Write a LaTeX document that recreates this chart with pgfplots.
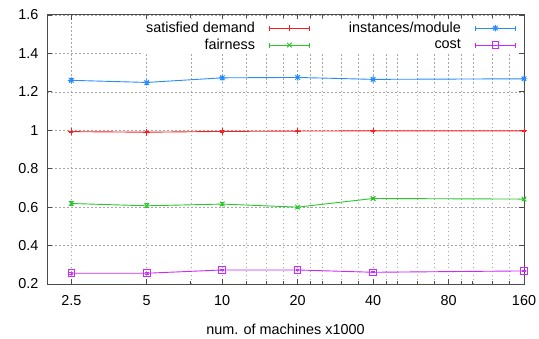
\documentclass[border=0pt]{standalone}
\usepackage{pgfplots}
\pgfplotsset{compat=1.18}
\usepackage{fontspec}
\setmainfont{Liberation Sans}
\definecolor{gpred}{RGB}{255,30,30}
\definecolor{gpgreen}{RGB}{40,200,40}
\definecolor{gpblue}{RGB}{40,140,255}
\definecolor{gppurple}{RGB}{205,40,255}
\pgfdeclareplotmark{gpstar}{%
  \pgfpathmoveto{\pgfqpoint{-\pgfplotmarksize}{0pt}}\pgfpathlineto{\pgfqpoint{\pgfplotmarksize}{0pt}}%
  \pgfpathmoveto{\pgfqpoint{0pt}{-\pgfplotmarksize}}\pgfpathlineto{\pgfqpoint{0pt}{\pgfplotmarksize}}%
  \pgfpathmoveto{\pgfqpoint{-.7071\pgfplotmarksize}{-.7071\pgfplotmarksize}}\pgfpathlineto{\pgfqpoint{.7071\pgfplotmarksize}{.7071\pgfplotmarksize}}%
  \pgfpathmoveto{\pgfqpoint{-.7071\pgfplotmarksize}{.7071\pgfplotmarksize}}\pgfpathlineto{\pgfqpoint{.7071\pgfplotmarksize}{-.7071\pgfplotmarksize}}%
  \pgfusepathqstroke}
\newcommand{\fs}{\fontsize{14.4bp}{17bp}\selectfont}
\pgfplotsset{
  gpleg/.style={legend image code/.code={%
    \draw[##1, mark=none] (0bp,0bp)--(40bp,0bp);
    \draw[##1, mark=none] (0bp,-2.5bp)--(0bp,2.5bp) (40bp,-2.5bp)--(40bp,2.5bp);
    \draw[##1, draw=none] plot coordinates {(20bp,0bp)};}},
}
\begin{document}
\begin{tikzpicture}
\begin{axis}[
  scale only axis,
  width=477bp, height=269bp,
  xmode=log,
  xmin=2, xmax=160,
  ymin=0.2, ymax=1.6,
  xtick={2.5,5,10,20,40,80,160},
  xticklabels={2.5,5,10,20,40,80,160},
  minor xtick={7.5,12.5,15,17.5,22.5,25,30,35,45,50,60,70,90,100,120,140},
  ytick={0.2,0.4,0.6,0.8,1,1.2,1.4,1.6},
  yticklabels={0.2,0.4,0.6,0.8,1,1.2,1.4,1.6},
  xmajorgrids, xminorgrids, ymajorgrids,
  grid style={gray!70, line width=0.6bp, dash pattern=on 1.5bp off 2.5bp},
  minor grid style={gray!70, line width=0.6bp, dash pattern=on 1.5bp off 2.5bp},
  axis line style={gray!60!black, line width=1bp},
  major tick length=5bp, minor tick length=3bp,
  tick style={gray!60!black, line width=0.8bp},
  tick align=inside,
  /pgf/number format/assume math mode=true,
  tick label style={font=\fs, black},
  xticklabel style={yshift=-8bp},
  yticklabel style={xshift=-5bp},
  xlabel={num. of machines x1000},
  xlabel style={font=\fs, yshift=-12bp},
  legend columns=2,
  legend plot pos=right,
  legend cell align=right,
  legend style={font=\fs, draw=none, fill=white, at={(1,1)}, anchor=north east,
    xshift=-7bp, yshift=-4bp, inner sep=1bp, row sep=1bp,
    /tikz/every odd column/.append style={column sep=12bp},
    /tikz/every even column/.append style={column sep=37bp}},
  every axis plot/.append style={line width=0.9bp, mark size=3.3bp, mark options={solid, line width=0.9bp}},
  error bars/y dir=both, error bars/y explicit,
  error bars/error mark options={rotate=90, mark size=1.8bp, line width=0.8bp},
  clip=false,
]
\addlegendimage{gpleg, color=gpred, mark=+, line width=0.9bp, mark size=3.3bp}
\addlegendentry{satisfied demand}
\addlegendimage{gpleg, color=gpblue, mark=gpstar, line width=0.9bp, mark size=3.3bp}
\addlegendentry{instances/module}
\addlegendimage{gpleg, color=gpgreen, mark=x, line width=0.9bp, mark size=3.3bp}
\addlegendentry{fairness}
\addlegendimage{gpleg, color=gppurple, mark=square, line width=0.9bp, mark size=3.3bp}
\addlegendentry{cost}
\addplot[gpred, mark=+, forget plot] coordinates {
  (2.5,0.993) +- (0,0.003)
  (5,0.990) +- (0,0.003)
  (10,0.994) +- (0,0.003)
  (20,0.996) +- (0,0.002)
  (40,0.997) +- (0,0.002)
  (160,0.997) +- (0,0.002)
};
\addplot[gpblue, mark=gpstar, forget plot] coordinates {
  (2.5,1.260) +- (0,0.008)
  (5,1.249) +- (0,0.008)
  (10,1.273) +- (0,0.006)
  (20,1.275) +- (0,0.006)
  (40,1.265) +- (0,0.005)
  (160,1.268) +- (0,0.005)
};
\addplot[gpgreen, mark=x, forget plot] coordinates {
  (2.5,0.619) +- (0,0.012)
  (5,0.607) +- (0,0.010)
  (10,0.616) +- (0,0.008)
  (20,0.600) +- (0,0.006)
  (40,0.645) +- (0,0.006)
  (160,0.642) +- (0,0.005)
};
\addplot[gppurple, mark=square, forget plot] coordinates {
  (2.5,0.256) +- (0,0.004)
  (5,0.256) +- (0,0.004)
  (10,0.273) +- (0,0.003)
  (20,0.273) +- (0,0.003)
  (40,0.261) +- (0,0.003)
  (160,0.268) +- (0,0.003)
};
\end{axis}
\pgfresetboundingbox
\path (-47bp,-55bp) rectangle (492bp,284bp);
\end{tikzpicture}
\end{document}
